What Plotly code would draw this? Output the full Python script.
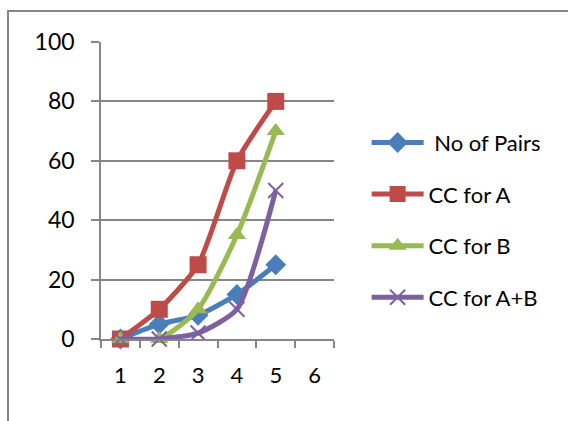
import plotly.graph_objects as go

categories = ["1", "2", "3", "4", "5", "6"]
x_points = ["1", "2", "3", "4", "5"]
no_of_pairs = [0, 5, 8, 15, 25]
cc_for_a = [0, 10, 25, 60, 80]
cc_for_b = [0, 0, 10, 35, 70]
cc_for_ab = [0, 0, 2, 10, 50]
y_ticks = [0, 20, 40, 60, 80, 100]

W, H = 568, 421
L, R, T, B = 101, 234, 42, 82

fig = go.Figure()
series = [
    ("\u00a0No of Pairs", no_of_pairs, "#4a7ebb", "diamond", 16, None),
    ("CC for A", cc_for_a, "#be4b48", "square", 17, None),
    ("CC for B", cc_for_b, "#98b954", "triangle-up", 16, None),
    ("CC for A+B", cc_for_ab, "#7d60a0", "x-thin", 15, 2),
]
for i, (name, vals, col, sym, size, lw) in enumerate(series):
    marker = dict(symbol=sym, size=size, color=col)
    if lw:
        marker["line"] = dict(color=col, width=lw)
    else:
        marker["line"] = dict(width=0)
    fig.add_trace(go.Scatter(
        x=x_points, y=vals, name=name, mode="lines+markers",
        line=dict(color=col, width=5, shape="spline", smoothing=0.6),
        marker=marker, cliponaxis=False, legendgroup=str(i),
    ))

axis_col = "#868686"
fig.update_layout(
    width=W, height=H,
    margin=dict(l=L, r=R, t=T, b=B),
    paper_bgcolor="white", plot_bgcolor="white",
    font=dict(family="Lato, Open Sans, sans-serif", size=22, color="black"),
    showlegend=True,
    legend=dict(x=1.14, xanchor="left", y=0.40, yanchor="middle",
                font=dict(size=22, family="Lato, sans-serif"), tracegroupgap=20,
                itemwidth=52, bgcolor="rgba(0,0,0,0)"),
    xaxis=dict(type="category", categoryorder="array", categoryarray=categories,
               range=[-0.5, 5.5], tickson="boundaries", ticks="outside", ticklen=7,
               tickcolor=axis_col, tickwidth=1.5, showgrid=False,
               showline=True, linecolor=axis_col, linewidth=1.5,
               zeroline=False, ticklabelstandoff=16,
               tickfont=dict(size=22, family="Lato, sans-serif")),
    yaxis=dict(range=[0, 100], tickvals=y_ticks, ticks="outside", ticklen=8,
               tickcolor=axis_col, tickwidth=1.5, showgrid=True, gridcolor=axis_col,
               gridwidth=1.5, showline=True, linecolor=axis_col, linewidth=1.5,
               zeroline=False, ticklabelstandoff=12,
               tickfont=dict(size=23, family="Lato, sans-serif")),
    shapes=[dict(type="rect", xref="paper", yref="paper",
                 x0=(8 - L) / (W - L - R), x1=(W + 20 - L) / (W - L - R),
                 y0=(H - B - (H + 20)) / (H - T - B), y1=(H - B - 11) / (H - T - B),
                 line=dict(color=axis_col, width=2), layer="above")],
)
fig.write_html("out.html", config={"displayModeBar": False},
               post_script="document.body.style.margin='0';")
